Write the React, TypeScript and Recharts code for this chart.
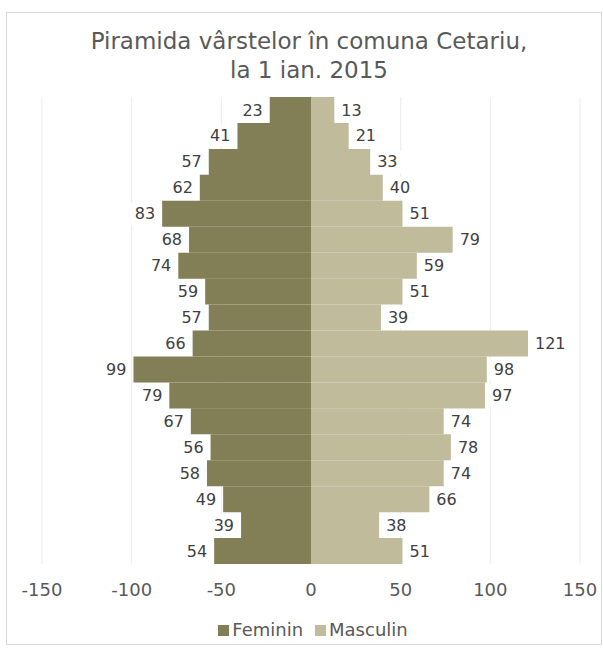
import React from 'react';
import { BarChart, Bar, XAxis, YAxis, CartesianGrid, Legend, LabelList } from 'recharts';

const ageGroups = ['85+', '80-84', '75-79', '70-74', '65-69', '60-64', '55-59', '50-54', '45-49', '40-44', '35-39', '30-34', '25-29', '20-24', '15-19', '10-14', '5-9', '0-4'];
const feminin = [23, 41, 57, 62, 83, 68, 74, 59, 57, 66, 99, 79, 67, 56, 58, 49, 39, 54];
const masculin = [13, 21, 33, 40, 51, 79, 59, 51, 39, 121, 98, 97, 74, 78, 74, 66, 38, 51];
const xTicks = [-150, -100, -50, 0, 50, 100, 150];

const FEM_COLOR = '#827e56';
const MASC_COLOR = '#bfbb9b';
const TEXT_COLOR = '#595959';
const FONT = "'DejaVu Sans', sans-serif";

const data = ageGroups.map((age, i) => ({
  age,
  Feminin: -feminin[i],
  Masculin: masculin[i],
}));

const makeLabel = (side: 'left' | 'right', values: number[]) => (props: any) => {
  const { x, y, width, height, index } = props;
  const v = values[index];
  const x1 = Math.min(Number(x), Number(x) + Number(width));
  const x2 = Math.max(Number(x), Number(x) + Number(width));
  const cy = Number(y) + Number(height) / 2;
  const text = String(v);
  const tw = text.length * 10.2;
  const pad = 4;
  if (side === 'left') {
    const tx = x1 - 7;
    return (
      <g>
        <rect x={tx - tw - pad} y={cy - 11} width={tw + pad * 2} height={22} fill="#ffffff" />
        <text x={tx} y={cy} textAnchor="end" dominantBaseline="central" fill="#404040" fontSize={16} fontFamily={FONT}>
          {text}
        </text>
      </g>
    );
  }
  const tx = x2 + 7;
  return (
    <g>
      <rect x={tx - pad} y={cy - 11} width={tw + pad * 2} height={22} fill="#ffffff" />
      <text x={tx} y={cy} textAnchor="start" dominantBaseline="central" fill="#404040" fontSize={16} fontFamily={FONT}>
        {text}
      </text>
    </g>
  );
};

const renderLegend = () => (
  <div style={{ height: 24, lineHeight: '24px', textAlign: 'center', fontFamily: FONT, fontSize: 18, color: TEXT_COLOR, paddingLeft: 4 }}>
    <span style={{ display: 'inline-block', width: 11, height: 11, background: FEM_COLOR, marginRight: 3 }} />
    <span style={{ marginRight: 12 }}>Feminin</span>
    <span style={{ display: 'inline-block', width: 11, height: 11, background: MASC_COLOR, marginRight: 3 }} />
    <span>Masculin</span>
  </div>
);

export default function App() {
  return (
    <div style={{ position: 'absolute', left: 0, top: 0, width: 603, height: 648, background: '#ffffff', fontFamily: FONT }}>
      <div style={{ position: 'absolute', left: 6, top: 12, width: 596, height: 633, border: '1px solid #d9d9d9', boxSizing: 'border-box' }} />
      <div style={{ position: 'absolute', left: 0, top: 27, width: 618, textAlign: 'center', fontSize: 23, lineHeight: '29px', color: TEXT_COLOR }}>
        Piramida vârstelor în comuna Cetariu,
        <br />
        la 1 ian. 2015
      </div>
      <div style={{ position: 'absolute', left: 0, top: 0 }}>
        <BarChart
          width={603}
          height={648}
          data={data}
          layout="vertical"
          stackOffset="sign"
          barCategoryGap={0}
          margin={{ top: 97, right: 23, left: 42, bottom: 6 }}
        >
          <CartesianGrid horizontal={false} stroke="#ececec" />
          <XAxis
            type="number"
            domain={[-150, 150]}
            ticks={xTicks}
            axisLine={false}
            tickLine={false}
            tickSize={8}
            tickMargin={11}
            height={54}
            tick={{ fill: TEXT_COLOR, fontSize: 18, fontFamily: FONT }}
          />
          <YAxis type="category" dataKey="age" hide />
          <Legend verticalAlign="bottom" content={renderLegend} />
          <Bar dataKey="Feminin" stackId="a" fill={FEM_COLOR} isAnimationActive={false}>
            <LabelList dataKey="Feminin" content={makeLabel('left', feminin)} />
          </Bar>
          <Bar dataKey="Masculin" stackId="a" fill={MASC_COLOR} isAnimationActive={false}>
            <LabelList dataKey="Masculin" content={makeLabel('right', masculin)} />
          </Bar>
        </BarChart>
      </div>
    </div>
  );
}
